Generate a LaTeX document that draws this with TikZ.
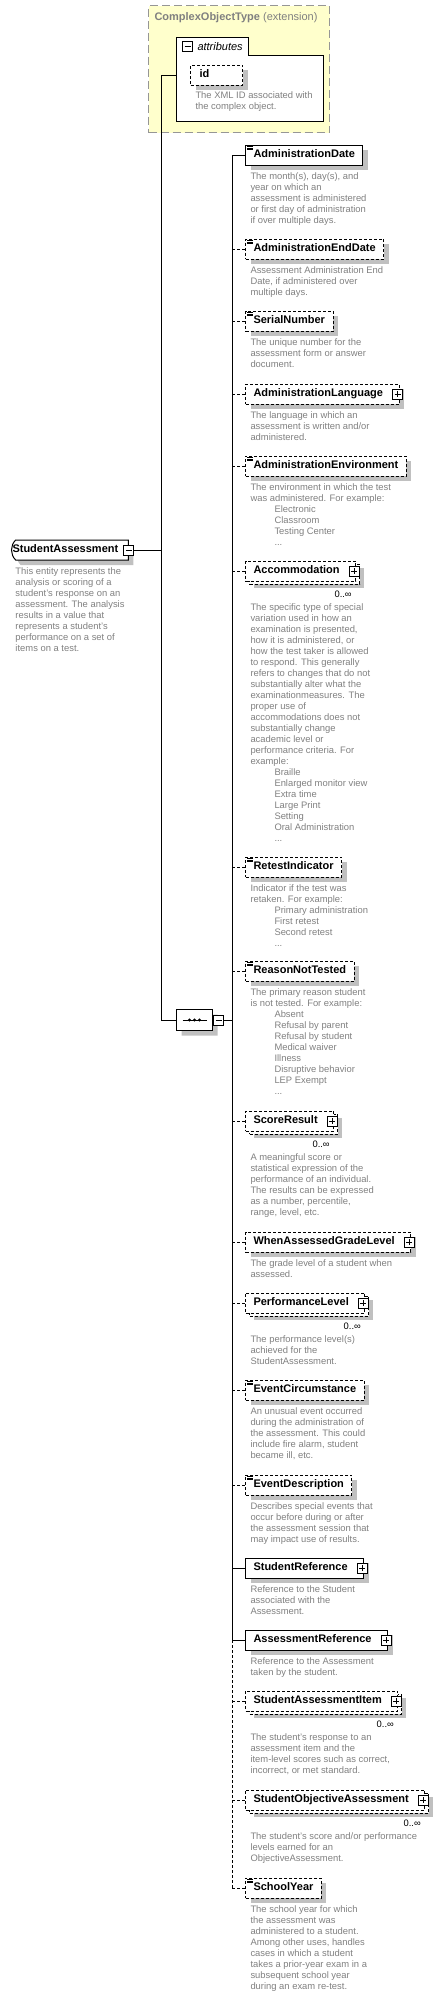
\documentclass[tikz,border=0pt]{standalone}
\usepackage{fontspec}
\setmainfont{Liberation Sans}
\usetikzlibrary{positioning, shapes.misc, shadows}

\definecolor{cotfill}{RGB}{255,255,204}
\definecolor{cotline}{RGB}{150,150,150}
\definecolor{desccol}{RGB}{128,128,128}
\definecolor{shadowgray}{RGB}{192,192,192}

\begin{document}
\begin{tikzpicture}[
    x=1pt, y=-1pt,
    line width=1pt,
    elbox/.style={
        draw, fill=white, anchor=west,
        minimum height=20pt, inner xsep=8pt, inner ysep=0pt,
        text height=8pt, text depth=2.5pt,
        font=\fontsize{11}{13}\selectfont\bfseries
    },
    req/.style={elbox, general shadow={fill=shadowgray, shadow xshift=5pt, shadow yshift=-5pt}},
    opt/.style={req, dash pattern=on 3pt off 2pt},
    multi/.style={elbox, dash pattern=on 3pt off 2pt,
        general shadow={fill=shadowgray, shadow xshift=8pt, shadow yshift=-7pt},
        copy shadow={shadow xshift=4pt, shadow yshift=-3pt, draw=black, fill=white, dash pattern=on 3pt off 2pt}},
    withplus/.style={execute at end node={\hspace{8pt}}},
    doc/.style={path picture={
        \foreach \k in {1.5,3,4.5}
            \draw[solid, line width=0.6pt] ([xshift=1.5pt, yshift=-\k pt]path picture bounding box.north west) -- ++(6pt,0);
    }},
    desc/.style={font=\fontsize{9.4}{11}\selectfont, text=desccol, align=left, inner sep=0pt},
    occ/.style={font=\fontsize{9.4}{11}\selectfont, inner sep=0pt},
    plusbox/.style={draw, fill=white, solid, minimum size=10pt, inner sep=0pt,
        path picture={\draw[solid] ([xshift=2pt]path picture bounding box.west) -- ([xshift=-2pt]path picture bounding box.east)
            ([yshift=-2pt]path picture bounding box.north) -- ([yshift=2pt]path picture bounding box.south);}},
    minusbox/.style={draw, fill=white, solid, minimum size=10pt, inner sep=0pt,
        path picture={\draw[solid] ([xshift=2pt]path picture bounding box.west) -- ([xshift=-2pt]path picture bounding box.east);}},
    seqbox/.style={draw, fill=white, chamfered rectangle, chamfered rectangle xsep=7pt,
        chamfered rectangle ysep=6pt, minimum width=36pt, minimum height=21pt, inner sep=0pt, anchor=west,
        general shadow={fill=shadowgray, shadow xshift=5pt, shadow yshift=-5pt}},
    optline/.style={dash pattern=on 3pt off 2pt}
]

    \useasboundingbox (0,0) rectangle (447,1997);

    % extension base type
    \node[draw=cotline, dash pattern=on 8pt off 4pt, fill=cotfill, anchor=north west,
          minimum width=181pt, minimum height=127pt] (cot) at (148,5) {};
    \node[inner sep=0pt, text=desccol, font=\fontsize{11}{13}\selectfont,
          below right=7pt and 6pt of cot.north west] (cotl) {\textbf{ComplexObjectType} (extension)};

    \node[anchor=north west, minimum width=146pt, minimum height=83pt, inner sep=0pt] (attrs) at (176,37) {};
    \draw[fill=white] (attrs.south west) |- ([xshift=72pt]attrs.north west)
        |- ([yshift=-18pt]attrs.north east) -- (attrs.south east) -- cycle;
    \node[minusbox, below right=4pt and 6pt of attrs.north west] (attrm) {};
    \node[right=4pt of attrm, inner sep=0pt, font=\fontsize{11}{13}\selectfont\itshape] (attrl) {attributes};
    \node[opt, text width=34pt, inner xsep=9pt] (idb) at (190,75) {id};
    \node[desc, below right=6pt and 5pt of idb.south west] (idd) {The XML ID associated with\\the complex object.};

    % root element
    \node[req, rounded rectangle, rounded rectangle right arc=none, rounded rectangle arc length=90,
          inner xsep=0pt, execute at end node={\hspace{10pt}}] (root) at (11,550) {StudentAssessment};
    \node[minusbox] (rootm) at (root.east) {};
    \node[desc, below right=17pt and 4pt of root.west] (rootd) {This entity represents the\\analysis or scoring of a\\student's response on an\\assessment. The analysis\\results in a value that\\represents a student's\\performance on a set of\\items on a test.};

    \coordinate (rt) at (161,550);
    \node[seqbox] (seq) at (176,1020) {};
    \draw ([xshift=-12pt]seq.center) -- ([xshift=12pt]seq.center);
    \foreach \dx in {-5,0,5}
        \fill ([xshift=\dx pt]seq.center) circle (1.6pt);
    \node[minusbox, right=0pt of seq] (seqm) {};
    \coordinate[right=8pt of seqm] (st);

    % sequence children
    \node[req, doc] (adate) at (245,155) {AdministrationDate};
    \node[opt, doc] (aend) at (245,249) {AdministrationEndDate};
    \node[opt, doc] (serial) at (245,321) {SerialNumber};
    \node[opt, withplus] (alang) at (245,394) {AdministrationLanguage};
    \node[opt, doc] (aenv) at (245,466) {AdministrationEnvironment};
    \node[multi, withplus] (accom) at (245,571) {Accommodation};
    \node[opt, doc] (retest) at (245,867) {RetestIndicator};
    \node[opt, doc] (reason) at (245,971) {ReasonNotTested};
    \node[multi, withplus] (score) at (245,1121) {ScoreResult};
    \node[opt, withplus] (grade) at (245,1242) {WhenAssessedGradeLevel};
    \node[multi, withplus] (perf) at (245,1303) {PerformanceLevel};
    \node[opt, doc] (eventc) at (245,1390) {EventCircumstance};
    \node[opt, doc] (eventd) at (245,1485) {EventDescription};
    \node[req, withplus] (sref) at (245,1568) {StudentReference};
    \node[req, withplus] (aref) at (245,1640) {AssessmentReference};
    \node[multi, withplus] (sitem) at (245,1701) {StudentAssessmentItem};
    \node[multi, withplus] (sobj) at (245,1800) {StudentObjectiveAssessment};
    \node[opt, doc] (syear) at (245,1888) {SchoolYear};

    \foreach \e in {alang, accom, score, grade, perf, sref, aref, sitem, sobj}
        \node[plusbox] (\e-p) at ([xshift=-2pt]\e.east) {};
    \foreach \e in {accom, score, perf, sitem, sobj}
        \node[occ, below left=9pt and 4pt of \e.south east] (\e-o) {0..∞};

    \node[desc, below right=7pt and 5pt of adate.south west] (adate-d) {The month(s), day(s), and\\year on which an\\assessment is administered\\or first day of administration\\if over multiple days.};
    \node[desc, below right=7pt and 5pt of aend.south west] (aend-d) {Assessment Administration End\\Date, if administered over\\multiple days.};
    \node[desc, below right=7pt and 5pt of serial.south west] (serial-d) {The unique number for the\\assessment form or answer\\document.};
    \node[desc, below right=7pt and 5pt of alang.south west] (alang-d) {The language in which an\\assessment is written and/or\\administered.};
    \node[desc, below right=7pt and 5pt of aenv.south west] (aenv-d) {The environment in which the test\\was administered. For example:\\\hspace*{24pt}Electronic\\\hspace*{24pt}Classroom\\\hspace*{24pt}Testing Center\\\hspace*{24pt}...};
    \node[desc, below right=22pt and 5pt of accom.south west] (accom-d) {The specific type of special\\variation used in how an\\examination is presented,\\how it is administered, or\\how the test taker is allowed\\to respond. This generally\\refers to changes that do not\\substantially alter what the\\examinationmeasures. The\\proper use of\\accommodations does not\\substantially change\\academic level or\\performance criteria. For\\example:\\\hspace*{24pt}Braille\\\hspace*{24pt}Enlarged monitor view\\\hspace*{24pt}Extra time\\\hspace*{24pt}Large Print\\\hspace*{24pt}Setting\\\hspace*{24pt}Oral Administration\\\hspace*{24pt}...};
    \node[desc, below right=7pt and 5pt of retest.south west] (retest-d) {Indicator if the test was\\retaken. For example:\\\hspace*{24pt}Primary administration\\\hspace*{24pt}First retest\\\hspace*{24pt}Second retest\\\hspace*{24pt}...};
    \node[desc, below right=7pt and 5pt of reason.south west] (reason-d) {The primary reason student\\is not tested. For example:\\\hspace*{24pt}Absent\\\hspace*{24pt}Refusal by parent\\\hspace*{24pt}Refusal by student\\\hspace*{24pt}Medical waiver\\\hspace*{24pt}Illness\\\hspace*{24pt}Disruptive behavior\\\hspace*{24pt}LEP Exempt\\\hspace*{24pt}...};
    \node[desc, below right=22pt and 5pt of score.south west] (score-d) {A meaningful score or\\statistical expression of the\\performance of an individual.\\The results can be expressed\\as a number, percentile,\\range, level, etc.};
    \node[desc, below right=7pt and 5pt of grade.south west] (grade-d) {The grade level of a student when\\assessed.};
    \node[desc, below right=22pt and 5pt of perf.south west] (perf-d) {The performance level(s)\\achieved for the\\StudentAssessment.};
    \node[desc, below right=7pt and 5pt of eventc.south west] (eventc-d) {An unusual event occurred\\during the administration of\\the assessment. This could\\include fire alarm, student\\became ill, etc.};
    \node[desc, below right=7pt and 5pt of eventd.south west] (eventd-d) {Describes special events that\\occur before during or after\\the assessment session that\\may impact use of results.};
    \node[desc, below right=7pt and 5pt of sref.south west] (sref-d) {Reference to the Student\\associated with the\\Assessment.};
    \node[desc, below right=7pt and 5pt of aref.south west] (aref-d) {Reference to the Assessment\\taken by the student.};
    \node[desc, below right=22pt and 5pt of sitem.south west] (sitem-d) {The student's response to an\\assessment item and the\\item-level scores such as correct,\\incorrect, or met standard.};
    \node[desc, below right=22pt and 5pt of sobj.south west] (sobj-d) {The student's score and/or performance\\levels earned for an\\ObjectiveAssessment.};
    \node[desc, below right=7pt and 5pt of syear.south west] (syear-d) {The school year for which\\the assessment was\\administered to a student.\\Among other uses, handles\\cases in which a student\\takes a prior-year exam in a\\subsequent school year\\during an exam re-test.};

    % connectors
    \draw (rootm.east) -- (rt);
    \draw (rt |- idb) -- (rt |- seq);
    \draw (rt |- idb) -- (attrs.west |- idb);
    \draw (rt |- seq) -- (seq.west);
    \draw (seqm.east) -- (st);
    \draw (st |- adate) -- (st |- aref);
    \draw[optline] (st |- aref) -- (st |- syear);
    \foreach \e in {adate, sref, aref}
        \draw (st |- \e.west) -- (\e.west);
    \foreach \e in {aend, serial, alang, aenv, accom, retest, reason, score, grade, perf, eventc, eventd, sitem, sobj, syear}
        \draw[optline] (st |- \e.west) -- (\e.west);

\end{tikzpicture}
\end{document}
